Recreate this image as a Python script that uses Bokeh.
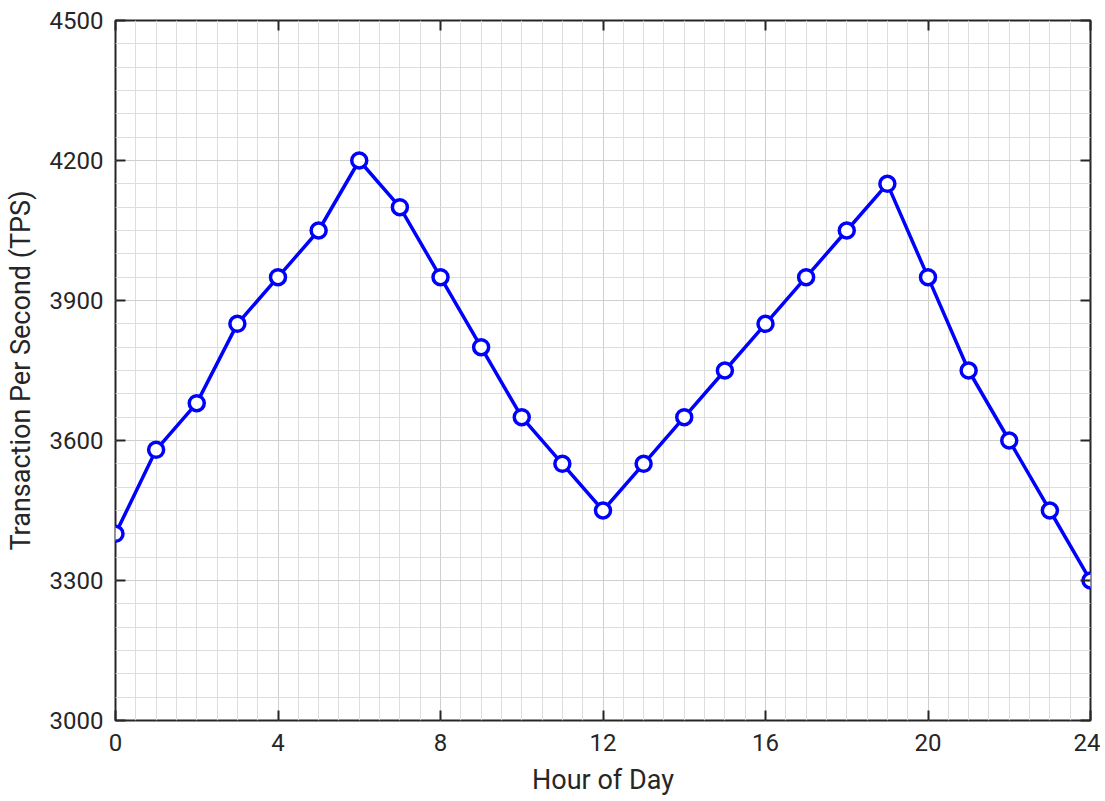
from bokeh.plotting import figure
from bokeh.models import SingleIntervalTicker, LinearAxis, Range1d, ColumnDataSource, Grid
from bokeh.embed import file_html
from bokeh.resources import INLINE

hours = [0, 1, 2, 3, 4, 5, 6, 7, 8, 9, 10, 11, 12, 13, 14, 15, 16, 17, 18, 19, 20, 21, 22, 23, 24]
tps = [3400, 3580, 3680, 3850, 3950, 4050, 4200, 4100, 3950, 3800, 3650, 3550, 3450,
       3550, 3650, 3750, 3850, 3950, 4050, 4150, 3950, 3750, 3600, 3450, 3300]
x_label = "Hour of Day"
y_label = "Transaction Per Second (TPS)"

FONT = "Roboto"
TXT = "#262626"

p = figure(width=1100, height=800, output_backend="svg", toolbar_location=None,
           x_range=Range1d(0, 24), y_range=Range1d(3000, 4500),
           min_border_left=115, min_border_right=10, min_border_top=20, min_border_bottom=80,
           x_axis_type=None, y_axis_type=None)
p.background_fill_color = "white"
p.border_fill_color = "white"
p.outline_line_color = TXT
p.outline_line_width = 2

xt = SingleIntervalTicker(interval=4, num_minor_ticks=8)
yt = SingleIntervalTicker(interval=300, num_minor_ticks=6)

def mk_axis(ticker, show_labels, label=None):
    ax = LinearAxis(ticker=ticker)
    ax.axis_line_color = None
    ax.major_tick_in = 10
    ax.major_tick_out = 0
    ax.major_tick_line_color = TXT
    ax.major_tick_line_width = 2
    ax.minor_tick_in = 0
    ax.minor_tick_out = 0
    ax.minor_tick_line_color = None
    if show_labels:
        ax.major_label_text_font = FONT
        ax.major_label_text_font_size = "24px"
        ax.major_label_text_color = TXT
    else:
        ax.major_label_text_color = None
        ax.major_label_text_font_size = "0px"
        ax.major_label_standoff = 0
    if label:
        ax.axis_label = label
        ax.axis_label_text_font = FONT
        ax.axis_label_text_font_size = "27px"
        ax.axis_label_text_font_style = "normal"
        ax.axis_label_text_color = TXT
    return ax

xb = mk_axis(xt, True, x_label)
xb.major_label_standoff = 13
xb.axis_label_standoff = 10
yl = mk_axis(yt, True, y_label)
yl.major_label_standoff = 12
yl.axis_label_standoff = 10
xa = mk_axis(xt, False)
yr = mk_axis(yt, False)
p.add_layout(xb, "below")
p.add_layout(yl, "left")
p.add_layout(xa, "above")
p.add_layout(yr, "right")

gx = Grid(dimension=0, ticker=xt)
gy = Grid(dimension=1, ticker=yt)
for g in (gx, gy):
    g.grid_line_color = "#cfcfcf"
    g.grid_line_width = 1
    g.minor_grid_line_color = "#dddddd"
    g.minor_grid_line_width = 1
    g.level = "underlay"
p.add_layout(gx)
p.add_layout(gy)

src = ColumnDataSource(dict(x=hours, y=tps))
p.line("x", "y", source=src, line_color="#0000ff", line_width=3.5)
p.scatter("x", "y", source=src, size=15, marker="circle", fill_color="white",
          line_color="#0000ff", line_width=3.5)

open("out.html", "w").write(file_html(p, INLINE))
